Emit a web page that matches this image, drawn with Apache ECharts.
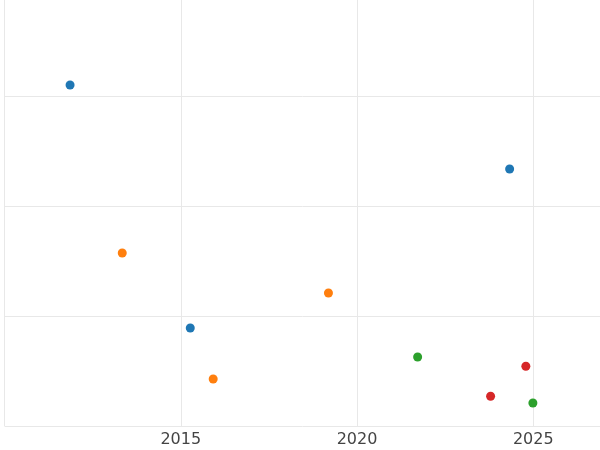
<!DOCTYPE html>
<html>
<head>
<meta charset="utf-8">
<script src="https://cdn.jsdelivr.net/npm/echarts@6/dist/echarts.min.js"></script>
<style>html,body{margin:0;padding:0;background:#fff}#c{width:600px;height:450px}</style>
</head>
<body>
<div id="c"></div>
<script>
const xTicks = [2015, 2020, 2025];
const blueX = [2011.86, 2024.33, 2015.27];
const blueY = [3.10, 2.336, 0.891];
const orangeX = [2013.34, 2019.19, 2015.92];
const orangeY = [1.573, 1.209, 0.427];
const greenX = [2021.72, 2024.99];
const greenY = [0.627, 0.209];
const redX = [2024.79, 2023.79];
const redY = [0.543, 0.270];
const colors = ['#1f77b4', '#ff7f0e', '#2ca02c', '#d62728'];

function pts(xs, ys) { return xs.map((x, i) => [x, ys[i]]); }

const chart = echarts.init(document.getElementById('c'));
chart.setOption({
  animation: false,
  grid: { left: 4.5, top: -14, width: 599.25, height: 440, outerBoundsMode: 'none', containLabel: false },
  xAxis: {
    type: 'value', min: 2010, max: 2027, interval: 5,
    axisLine: { show: false }, axisTick: { show: false },
    splitLine: { show: true, lineStyle: { color: '#e8e8e8', width: 1 } },
    axisLabel: {
      fontSize: 16, color: '#444', fontFamily: 'DejaVu Sans', margin: 6,
      formatter: v => xTicks.includes(v) ? String(v) : ''
    }
  },
  yAxis: {
    type: 'value', min: 0, max: 4, interval: 1,
    axisLine: { show: false }, axisTick: { show: false }, axisLabel: { show: false },
    splitLine: { show: true, lineStyle: { color: '#e8e8e8', width: 1 } }
  },
  series: [
    { type: 'scatter', data: pts(blueX, blueY), symbolSize: 9, itemStyle: { color: colors[0], opacity: 1 } },
    { type: 'scatter', data: pts(orangeX, orangeY), symbolSize: 9, itemStyle: { color: colors[1], opacity: 1 } },
    { type: 'scatter', data: pts(greenX, greenY), symbolSize: 9, itemStyle: { color: colors[2], opacity: 1 } },
    { type: 'scatter', data: pts(redX, redY), symbolSize: 9, itemStyle: { color: colors[3], opacity: 1 } }
  ]
});
</script>
</body>
</html>
